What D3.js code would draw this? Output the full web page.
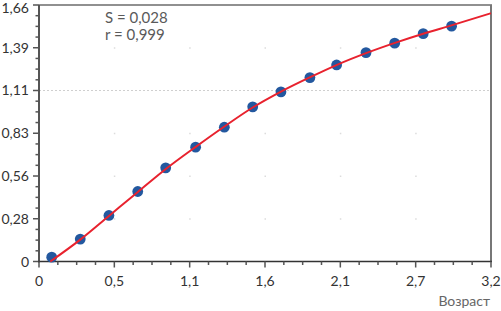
<!DOCTYPE html>
<html><head><meta charset="utf-8">
<script src="https://cdn.jsdelivr.net/npm/d3@7"></script>
<style>html,body{margin:0;padding:0;background:#fff;}svg{display:block;}</style>
</head><body>
<svg id="c" width="501" height="311"></svg>
<script>
// Observed data (age, value)
const ages   = [0.09, 0.292, 0.495, 0.699, 0.897, 1.109, 1.312, 1.513, 1.713, 1.918, 2.107, 2.315, 2.518, 2.72, 2.921];
const values = [0.028, 0.145, 0.298, 0.453, 0.606, 0.740, 0.869, 1.001, 1.098, 1.190, 1.272, 1.352, 1.413, 1.475, 1.523];
// Fitted curve
const fitX = [0.08, 0.29, 0.495, 0.70, 0.90, 1.11, 1.31, 1.51, 1.71, 1.92, 2.11, 2.32, 2.52, 2.72, 2.92, 3.2];
const fitY = [0.0, 0.14, 0.295, 0.45, 0.60, 0.742, 0.872, 0.995, 1.098, 1.193, 1.273, 1.35, 1.415, 1.474, 1.528, 1.607];
// Axis ticks
const xTicks = [0, 0.5333, 1.0667, 1.6, 2.1333, 2.6667, 3.2];
const xTickLabels = ["0", "0,5", "1,1", "1,6", "2,1", "2,7", "3,2"];
const yTicks = [0, 0.2767, 0.5533, 0.83, 1.1067, 1.3833, 1.66];
const yTickLabels = ["0", "0,28", "0,56", "0,83", "1,11", "1,39", "1,66"];
const statLines = ["S = 0,028", "r = 0,999"];
const xTitle = "Возраст";

const svg = d3.select("#c");
const x = d3.scaleLinear().domain([0, 3.2]).range([39, 491]);
const y = d3.scaleLinear().domain([0, 1.66]).range([261.5, 5]);
const font = "Lato, 'Open Sans', sans-serif";

// grid: dotted line at 1.11 and faint dots at intersections
svg.append("line").attr("x1", x(0)).attr("x2", x(3.2))
  .attr("y1", y(yTicks[4])).attr("y2", y(yTicks[4]))
  .attr("stroke", "#cfcfcf").attr("stroke-width", 1).attr("stroke-dasharray", "2,2");
const gridDots = [];
xTicks.slice(1, -1).forEach(xv => yTicks.slice(1, -1).forEach(yv => { if (yv !== yTicks[4]) gridDots.push([xv, yv]); }));
svg.append("g").selectAll("rect").data(gridDots).join("rect")
  .attr("x", d => x(d[0]) - 0.5).attr("y", d => y(d[1]) - 0.5)
  .attr("width", 1.5).attr("height", 1.5).attr("fill", "#dcdcdc");

// frame: top and right
svg.append("line").attr("x1", x(0)).attr("x2", x(3.2) + 1).attr("y1", y(1.66)).attr("y2", y(1.66))
  .attr("stroke", "#222").attr("stroke-width", 1.2);
svg.append("line").attr("x1", x(3.2)).attr("x2", x(3.2)).attr("y1", y(1.66)).attr("y2", y(0))
  .attr("stroke", "#777").attr("stroke-width", 2);

// minor ticks
function minors(ticks) {
  const m = [];
  for (let i = 0; i < ticks.length - 1; i++) for (let k = 1; k < 4; k++) m.push(ticks[i] + (ticks[i + 1] - ticks[i]) * k / 4);
  return m;
}
const axisColor = "#555";
// y axis
svg.append("line").attr("x1", x(0)).attr("x2", x(0)).attr("y1", y(1.66)).attr("y2", y(0) + 1)
  .attr("stroke", axisColor).attr("stroke-width", 2);
svg.append("g").selectAll("line").data(yTicks).join("line")
  .attr("x1", x(0) - 6).attr("x2", x(0)).attr("y1", d => y(d)).attr("y2", d => y(d))
  .attr("stroke", axisColor).attr("stroke-width", 1.5);
svg.append("g").selectAll("line").data(minors(yTicks)).join("line")
  .attr("x1", x(0) - 3.5).attr("x2", x(0)).attr("y1", d => y(d)).attr("y2", d => y(d))
  .attr("stroke", axisColor).attr("stroke-width", 1.5);
svg.append("g").selectAll("text").data(yTicks).join("text")
  .attr("x", 29).attr("y", d => Math.max(y(d) + 5, 13)).attr("text-anchor", "end")
  .attr("font-family", font).attr("font-size", 14).attr("fill", "#333")
  .text((d, i) => yTickLabels[i]);

// x axis
svg.append("line").attr("x1", x(0) - 1).attr("x2", x(3.2) + 1).attr("y1", y(0)).attr("y2", y(0))
  .attr("stroke", "#333").attr("stroke-width", 1.5);
svg.append("g").selectAll("line").data(xTicks).join("line")
  .attr("x1", d => x(d)).attr("x2", d => x(d)).attr("y1", y(0)).attr("y2", y(0) + 6)
  .attr("stroke", axisColor).attr("stroke-width", 1.5);
svg.append("g").selectAll("line").data(minors(xTicks)).join("line")
  .attr("x1", d => x(d)).attr("x2", d => x(d)).attr("y1", y(0)).attr("y2", y(0) + 3.5)
  .attr("stroke", axisColor).attr("stroke-width", 1.5);
svg.append("g").selectAll("text").data(xTicks).join("text")
  .attr("x", d => x(d)).attr("y", 286).attr("text-anchor", "middle")
  .attr("font-family", font).attr("font-size", 14).attr("fill", "#333")
  .text((d, i) => xTickLabels[i]);
svg.append("text").attr("x", 490).attr("y", 306).attr("text-anchor", "end")
  .attr("font-family", font).attr("font-size", 14).attr("fill", "#666").text(xTitle);

// stats text
svg.append("g").selectAll("text").data(statLines).join("text")
  .attr("x", 105).attr("y", (d, i) => 23 + i * 17)
  .attr("font-family", font).attr("font-size", 15).attr("fill", "#5a5a5a").text(d => d);

// points
svg.append("g").selectAll("circle").data(ages.map((a, i) => [a, values[i]])).join("circle")
  .attr("cx", d => x(d[0])).attr("cy", d => y(d[1])).attr("r", 5.4)
  .attr("fill", "#23589f");

// fitted curve
const line = d3.line().x((d, i) => x(fitX[i])).y(d => y(d)).curve(d3.curveMonotoneX);
svg.append("path").datum(fitY).attr("d", line)
  .attr("fill", "none").attr("stroke", "#e8222e").attr("stroke-width", 2);
</script>
</body></html>
